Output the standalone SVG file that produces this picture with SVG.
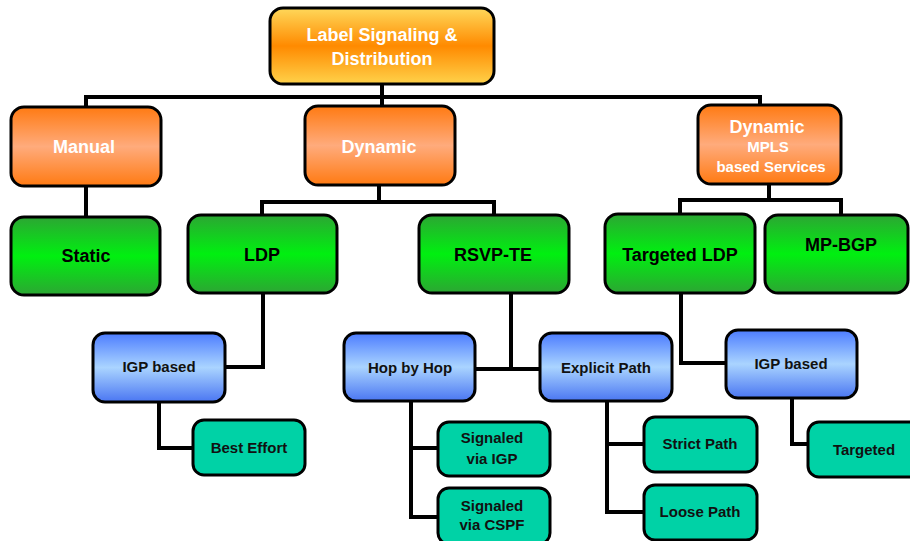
<svg xmlns="http://www.w3.org/2000/svg" width="910" height="541" viewBox="0 0 910 541">
  <defs>
    <linearGradient id="gTop" x1="0" y1="0" x2="0" y2="1">
      <stop offset="0" stop-color="#ffd85a"/>
      <stop offset="0.5" stop-color="#ff8a00"/>
      <stop offset="1" stop-color="#ffd24a"/>
    </linearGradient>
    <linearGradient id="gOrange" x1="0" y1="0" x2="0" y2="1">
      <stop offset="0" stop-color="#ff7a12"/>
      <stop offset="0.5" stop-color="#ffab7c"/>
      <stop offset="1" stop-color="#ff7a12"/>
    </linearGradient>
    <linearGradient id="gGreen" x1="0" y1="0" x2="0" y2="1">
      <stop offset="0" stop-color="#2ca633"/>
      <stop offset="0.5" stop-color="#00f010"/>
      <stop offset="1" stop-color="#2ca633"/>
    </linearGradient>
    <linearGradient id="gBlue" x1="0" y1="0" x2="0" y2="1">
      <stop offset="0" stop-color="#4c7cff"/>
      <stop offset="0.5" stop-color="#aad4ff"/>
      <stop offset="1" stop-color="#4a76f2"/>
    </linearGradient>
  </defs>
  <style>
    .box { stroke: #000; stroke-width: 3; }
    .top { fill: url(#gTop); }
    .org { fill: url(#gOrange); }
    .grn { fill: url(#gGreen); }
    .blu { fill: url(#gBlue); }
    .tea { fill: #00d2a6; }
    text { font-family: "Liberation Sans", Arial, sans-serif; font-weight: bold; text-anchor: middle; }
    .w18 { fill: #fff; font-size: 18px; }
    .w15 { fill: #fff; font-size: 15px; }
    .b18 { fill: #000; font-size: 18px; }
    .b15 { fill: #111; font-size: 15px; }
    .link { fill: none; stroke: #000; stroke-width: 4; stroke-linejoin: miter; }
  </style>

  <rect width="910" height="541" fill="#fff"/>

  <!-- tree connectors -->
  <g id="connectors" class="link">
    <path d="M382 84 V106"/>
    <path d="M86 107 V97 H760 V105"/>
    <path d="M86 186 V217"/>
    <path d="M379 185 V202"/>
    <path d="M262 215 V202 H494 V214"/>
    <path d="M769 184 V200"/>
    <path d="M680 214 V200 H841 V215"/>
    <path d="M263 293 V367 H225"/>
    <path d="M159 402 V448 H193"/>
    <path d="M511 293 V369"/>
    <path d="M475 369 H540"/>
    <path d="M411 401 V517 H438"/>
    <path d="M411 448 H438"/>
    <path d="M607 401 V512 H644"/>
    <path d="M607 444 H644"/>
    <path d="M681 293 V363 H726"/>
    <path d="M792 398 V444 H808"/>
  </g>

  <g id="label-signaling">
    <rect class="box top" x="270" y="8" width="224" height="76" rx="13"/>
    <text class="w18" x="382" y="41">Label Signaling &amp;</text>
    <text class="w18" x="382" y="65">Distribution</text>
  </g>

  <g id="manual">
    <rect class="box org" x="11" y="107" width="150" height="79" rx="13"/>
    <text class="w18" x="84" y="153">Manual</text>
  </g>
  <g id="dynamic">
    <rect class="box org" x="305" y="106" width="150" height="79" rx="13"/>
    <text class="w18" x="379" y="153">Dynamic</text>
  </g>
  <g id="dynamic-mpls">
    <rect class="box org" x="698" y="105" width="143" height="79" rx="13"/>
    <text class="w18" x="767" y="133">Dynamic</text>
    <text class="w15" x="768" y="152">MPLS</text>
    <text class="w15" x="771" y="172">based Services</text>
  </g>

  <g id="static">
    <rect class="box grn" x="11" y="217" width="149" height="78" rx="13"/>
    <text class="b18" x="86" y="262">Static</text>
  </g>
  <g id="ldp">
    <rect class="box grn" x="188" y="215" width="149" height="78" rx="13"/>
    <text class="b18" x="262" y="261">LDP</text>
  </g>
  <g id="rsvp-te">
    <rect class="box grn" x="419" y="215" width="150" height="78" rx="13"/>
    <text class="b18" x="493" y="261">RSVP-TE</text>
  </g>
  <g id="targeted-ldp">
    <rect class="box grn" x="605" y="214" width="150" height="79" rx="13"/>
    <text class="b18" x="680" y="261">Targeted LDP</text>
  </g>
  <g id="mp-bgp">
    <rect class="box grn" x="765" y="215" width="143" height="78" rx="13"/>
    <text class="b18" x="841" y="251">MP-BGP</text>
  </g>

  <g id="igp-based-ldp">
    <rect class="box blu" x="93" y="333" width="132" height="69" rx="12"/>
    <text class="b15" x="159" y="372">IGP based</text>
  </g>
  <g id="best-effort">
    <rect class="box tea" x="193" y="420" width="112" height="55" rx="11"/>
    <text class="b15" x="249" y="453">Best Effort</text>
  </g>

  <g id="hop-by-hop">
    <rect class="box blu" x="344" y="333" width="131" height="68" rx="12"/>
    <text class="b15" x="410" y="373">Hop by Hop</text>
  </g>
  <g id="explicit-path">
    <rect class="box blu" x="540" y="333" width="132" height="68" rx="12"/>
    <text class="b15" x="606" y="373">Explicit Path</text>
  </g>
  <g id="signaled-igp">
    <rect class="box tea" x="438" y="422" width="112" height="54" rx="11"/>
    <text class="b15" x="492" y="443">Signaled</text>
    <text class="b15" x="492" y="464">via IGP</text>
  </g>
  <g id="signaled-cspf">
    <rect class="box tea" x="438" y="488" width="112" height="56" rx="11"/>
    <text class="b15" x="492" y="511">Signaled</text>
    <text class="b15" x="492" y="530">via CSPF</text>
  </g>
  <g id="strict-path">
    <rect class="box tea" x="644" y="417" width="113" height="55" rx="11"/>
    <text class="b15" x="700" y="449">Strict Path</text>
  </g>
  <g id="loose-path">
    <rect class="box tea" x="644" y="485" width="113" height="55" rx="11"/>
    <text class="b15" x="700" y="517">Loose Path</text>
  </g>

  <g id="igp-based-tldp">
    <rect class="box blu" x="726" y="330" width="131" height="68" rx="12"/>
    <text class="b15" x="791" y="369">IGP based</text>
  </g>
  <g id="targeted">
    <rect class="box tea" x="808" y="422" width="112" height="55" rx="11"/>
    <text class="b15" x="864" y="455">Targeted</text>
  </g>
</svg>
